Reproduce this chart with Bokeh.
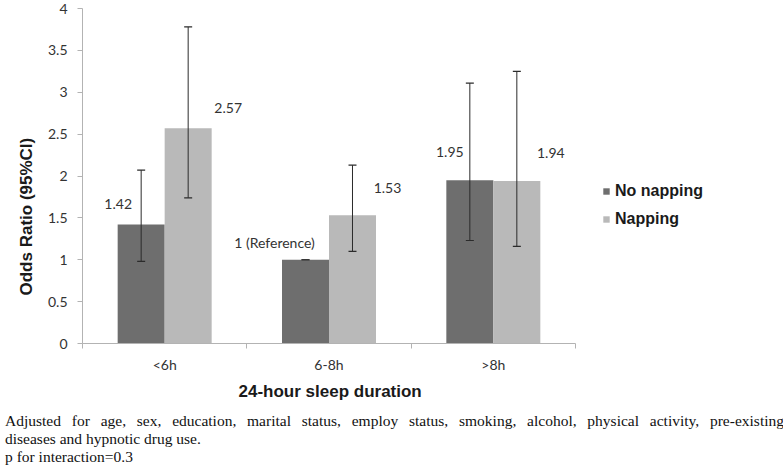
import math
from bokeh.plotting import figure
from bokeh.models import (Range1d, FixedTicker, ColumnDataSource, Whisker, TeeHead,
                          Legend, LegendItem, NumeralTickFormatter, Div, Title)
from bokeh.layouts import column
from bokeh.embed import file_html
from bokeh.resources import INLINE
from bokeh.core.properties import value

# ---------------- data ----------------
categories = ["<6h", "6-8h", ">8h"]
series_names = ["No napping", "Napping"]
or_no_nap = [1.42, 1.00, 1.95]
lo_no_nap = [0.98, 1.00, 1.23]
hi_no_nap = [2.07, 1.00, 3.11]
or_nap = [2.57, 1.53, 1.94]
lo_nap = [1.74, 1.10, 1.16]
hi_nap = [3.78, 2.13, 3.25]
labels_no_nap = ["1.42", "1 (Reference)", "1.95"]
labels_nap = ["2.57", "1.53", "1.94"]
y_ticks = [0, 0.5, 1, 1.5, 2, 2.5, 3, 3.5, 4]
x_title = "24-hour sleep duration"
y_title = "Odds Ratio (95%CI)"
footnote_1 = ("Adjusted for age, sex, education, marital status, employ status, smoking, "
              "alcohol, physical activity, pre-existing")
footnote_2 = "diseases and hypnotic drug use."
footnote_3 = "p for interaction=0.3"

# ---------------- layout / style ----------------
W, H = 775, 407
LEFT, TOP, FRAME_BOTTOM = 82, 8, 343
AXIS_PX = 493.0               # pixel width of the category axis
px_per_cat = AXIS_PX / len(categories)
x_end = (W - LEFT) / px_per_cat
bar_w = 0.286
c_dark = "#6e6e6e"
c_light = "#b9b9b9"
axis_c = "#b3b3b3"
txt_c = "#333333"
err_c = "#2b2b2b"
num_font = "Lato"
bold_font = "Liberation Sans"

# label pixel offsets (manual label placement as in the source)
dx_no_nap = [-23, -31, -20]
dy_no_nap = [-21, -17, -28]
dx_nap = [40, 35, 34]
dy_nap = [-20, -27, -28]

centers = [i + 0.5 for i in range(len(categories))]
x_no_nap = [c - bar_w / 2 for c in centers]
x_nap = [c + bar_w / 2 for c in centers]

src_a = ColumnDataSource(dict(x=x_no_nap, top=or_no_nap, lo=lo_no_nap, hi=hi_no_nap,
                              lab=labels_no_nap, dx=dx_no_nap, dy=dy_no_nap))
src_b = ColumnDataSource(dict(x=x_nap, top=or_nap, lo=lo_nap, hi=hi_nap,
                              lab=labels_nap, dx=dx_nap, dy=dy_nap))

p = figure(width=W, height=H, x_range=Range1d(0, x_end), y_range=Range1d(y_ticks[0], y_ticks[-1]),
           output_backend="svg", toolbar_location=None,
           min_border_left=LEFT, min_border_right=0, min_border_top=TOP,
           min_border_bottom=H - FRAME_BOTTOM)
p.outline_line_color = None
p.xgrid.visible = False
p.ygrid.visible = False
p.background_fill_color = "white"
p.border_fill_color = "white"

r_a = p.vbar(x="x", top="top", bottom=0, width=bar_w, source=src_a,
             fill_color=c_dark, line_color=None)
r_b = p.vbar(x="x", top="top", bottom=0, width=bar_w, source=src_b,
             fill_color=c_light, line_color=None)

for src in (src_a, src_b):
    w = Whisker(source=src, base="x", upper="hi", lower="lo", line_color=err_c, line_width=1,
                upper_head=TeeHead(size=8, line_color=err_c, line_width=1.2),
                lower_head=TeeHead(size=8, line_color=err_c, line_width=1.2),
                level="overlay")
    p.add_layout(w)
    p.text(x="x", y="top", text="lab", x_offset="dx", y_offset="dy", source=src,
           text_align="center", text_baseline="middle", text_font=value(num_font),
           text_font_size="14px", text_color=txt_c)

# x axis: labels at category centres, ticks at category boundaries
xa = p.xaxis[0]
xa.ticker = FixedTicker(ticks=centers, minor_ticks=list(range(len(categories) + 1)))
xa.major_label_overrides = {c: cat for c, cat in zip(centers, categories)}
xa.bounds = (0, len(categories))
xa.axis_line_color = axis_c
xa.major_tick_line_color = None
xa.major_tick_out = 0
xa.major_tick_in = 0
xa.minor_tick_line_color = axis_c
xa.minor_tick_out = 5
xa.minor_tick_in = 0
xa.major_label_standoff = 7
xa.major_label_text_font = num_font
xa.major_label_text_font_size = "14px"
xa.major_label_text_color = txt_c

ya = p.yaxis[0]
ya.ticker = FixedTicker(ticks=y_ticks)
ya.formatter = NumeralTickFormatter(format="0.[0]")
ya.axis_line_color = axis_c
ya.major_tick_line_color = axis_c
ya.major_tick_out = 5
ya.major_tick_in = 0
ya.minor_tick_line_color = None
ya.major_label_standoff = 10
ya.major_label_text_font = num_font
ya.major_label_text_font_size = "14px"
ya.major_label_text_color = txt_c

# axis titles as side titles (positioned as in the source)
p.add_layout(Title(text=x_title, align="left", offset=156, standoff=9,
                   text_font=bold_font, text_font_style="bold", text_font_size="17px",
                   text_color="#1a1a1a"), "below")
p.add_layout(Title(text=y_title, align="left", offset=48, standoff=18,
                   text_font=bold_font, text_font_style="bold", text_font_size="17px",
                   text_color="#1a1a1a"), "left")

legend = Legend(items=[LegendItem(label=series_names[0], renderers=[r_a]),
                       LegendItem(label=series_names[1], renderers=[r_b])],
                location=(520, 114), orientation="vertical",
                glyph_width=8, glyph_height=8, label_height=20, spacing=8,
                label_standoff=5, padding=0, margin=0,
                border_line_color=None, background_fill_alpha=0,
                label_text_font=bold_font, label_text_font_style="bold",
                label_text_font_size="16px", label_text_color="#1a1a1a")
p.add_layout(legend)

foot = Div(width=779, text=(
    '<div style="width: 779px; font-family: \'Liberation Serif\', serif; font-size: 15.5px; '
    'line-height: 18px; color: #111;">'
    f'<div style="width: 779px; text-align: justify; text-align-last: justify;">'
    f'{footnote_1.replace("<", "&lt;")}</div>'
    f'<div>{footnote_2}</div><div>{footnote_3}</div></div>'))

layout = column(p, foot, spacing=0)
open("out.html", "w").write(file_html(layout, INLINE))
